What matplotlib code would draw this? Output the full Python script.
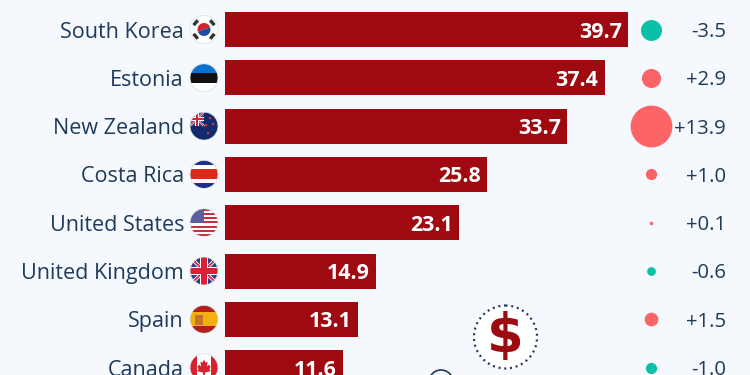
import matplotlib
matplotlib.use("Agg")
import matplotlib.pyplot as plt
from matplotlib.patches import Circle, Rectangle, Polygon, Wedge

countries = ["South Korea", "Estonia", "New Zealand", "Costa Rica",
             "United States", "United Kingdom", "Spain", "Canada"]
values = [39.7, 37.4, 33.7, 25.8, 23.1, 14.9, 13.1, 11.6]
changes = [-3.5, 2.9, 13.9, 1.0, 0.1, -0.6, 1.5, -1.0]

BG = "#f5f8fc"
BAR = "#9e0a10"
NAVY = "#1f3a5a"
UP = "#fd6467"
DOWN = "#0bbfa9"
SCALE = 10.15

plt.rcParams["font.family"] = ["Open Sans", "DejaVu Sans"]

fig = plt.figure(figsize=(7.5, 3.75), dpi=100, facecolor=BG)

# main axes fills the figure, x=0 sits at the bar baseline
ax = fig.add_axes([0, 0, 1, 1])
ax.set_xlim(-225 / SCALE, 525 / SCALE)
ax.set_ylim((375 - 29.5) / 48.3, -29.5 / 48.3)
ax.axis("off")

rows = list(range(len(countries)))
ax.barh(rows, values, height=35 / 48.3, color=BAR, zorder=2)

for i, v in zip(rows, values):
    ax.text(v - 0.62, i, f"{v:.1f}", color="white", fontsize=15.4, fontweight="bold",
            ha="right", va="center_baseline", zorder=3)

x_name = -41 / SCALE
x_bubble = 426 / SCALE
x_change = 501 / SCALE
for i, name, c in zip(rows, countries, changes):
    ax.text(x_name, i, name, color=NAVY, fontsize=15.5, ha="right", va="center_baseline")
    ax.text(x_change, i, f"{c:+.1f}", color=NAVY, fontsize=14.6, ha="right",
            va="center_baseline")
    r_pts = 5.6 * abs(c) ** 0.5 * 0.72
    ax.scatter([x_bubble], [i], s=(2 * r_pts) ** 2, color=UP if c > 0 else DOWN,
               linewidths=0, zorder=3)

# overlay in pixel coordinates for flags and icons
px = fig.add_axes([0, 0, 1, 1], facecolor="none")
px.set_xlim(0, 750)
px.set_ylim(375, 0)
px.axis("off")


def flag(cy, parts, cx=204, r=14):
    clip = Circle((cx, cy), r, transform=px.transData)
    for p in parts:
        p.set_linewidth(0)
        px.add_patch(p)
        p.set_clip_path(clip)
    px.add_patch(Circle((cx, cy), r, fill=False, ec="#dfe3e8", lw=0.6))


def band(cy, top, h, color, x=190, w=28):
    return Rectangle((x, cy - 14 + top), w, h, color=color)


def union(cx, cy, w, h):
    # small union jack, (cx, cy) is the top left corner
    t = w * 0.09
    return [
        Rectangle((cx, cy), w, h, color="#27408b"),
        Polygon([(cx - t, cy), (cx + t, cy), (cx + w + t, cy + h), (cx + w - t, cy + h)], color="white"),
        Polygon([(cx + w + t, cy), (cx + w - t, cy), (cx - t, cy + h), (cx + t, cy + h)], color="white"),
        Polygon([(cx - t / 2, cy), (cx + t / 2, cy), (cx + w + t / 2, cy + h), (cx + w - t / 2, cy + h)], color="#d8203a"),
        Polygon([(cx + w + t / 2, cy), (cx + w - t / 2, cy), (cx - t / 2, cy + h), (cx + t / 2, cy + h)], color="#d8203a"),
        Rectangle((cx + w / 2 - 1.5 * t, cy), 3 * t, h, color="white"),
        Rectangle((cx, cy + h / 2 - 1.5 * t), w, 3 * t, color="white"),
        Rectangle((cx + w / 2 - t, cy), 2 * t, h, color="#d8203a"),
        Rectangle((cx, cy + h / 2 - t), w, 2 * t, color="#d8203a"),
    ]


# South Korea
cy = 29.5
flag(cy, [band(cy, 0, 28, "white"),
          Wedge((204, cy), 6.5, 160, 340, color="#d5232f"),
          Wedge((204, cy), 6.5, -20, 160, color="#1d4fa0")])
for dx, dy, ang in [(-8.3, -6.8, -50), (8.3, -6.8, 50), (-8.3, 6.8, 50), (8.3, 6.8, -50)]:
    px.add_patch(Rectangle((204 + dx - 3.2, cy + dy - 1.7), 6.4, 3.4, angle=ang,
                           rotation_point="center", color="#333333", lw=0))

# Estonia
cy = 77.8
flag(cy, [band(cy, 0, 9.5, "#0a72cc"), band(cy, 9.5, 9.5, "#111111"), band(cy, 19, 9, "white")])

# New Zealand
cy = 126.1
flag(cy, [band(cy, 0, 28, "#12296b")] + union(190, cy - 14, 14, 14))
for dx, dy in [(6, -8), (2, -1), (9, -2), (4, 7)]:
    px.add_patch(Circle((204 + dx, cy + dy), 1.3, color="#c8323f", lw=0))

# Costa Rica
cy = 174.4
flag(cy, [band(cy, 0, 28, "#1c2f8a"), band(cy, 5, 18, "white"), band(cy, 9, 10, "#dd2a1b")])

# United States
cy = 222.7
us = [band(cy, 0, 28, "white")]
for k in range(0, 7):
    us.append(band(cy, k * 4.2, 2.1, "#c8313e"))
us.append(Rectangle((190, cy - 14), 14, 14.5, color="#5a5f9e"))
flag(cy, us)

# United Kingdom
cy = 271.0
flag(cy, union(190, cy - 14, 28, 28))

# Spain
cy = 319.3
flag(cy, [band(cy, 0, 7, "#b3201c"), band(cy, 7, 14, "#f2b10e"), band(cy, 21, 7, "#b3201c"),
          Rectangle((195, cy - 4.5), 8, 10, color="#c8703a")])

# Canada
cy = 367.6
leaf = [(0, -8), (1.5, -5), (3.5, -6), (3, -1), (5, -3), (6.5, -1), (5.5, 2), (7, 3.5),
        (1, 5), (1, 9), (-1, 9), (-1, 5), (-7, 3.5), (-5.5, 2), (-6.5, -1), (-5, -3),
        (-3, -1), (-3.5, -6), (-1.5, -5)]
flag(cy, [band(cy, 0, 28, "white"), Rectangle((190, cy - 14), 7, 28, color="#d8232f"),
          Rectangle((211, cy - 14), 7, 28, color="#d8232f"),
          Polygon([(204 + x, cy + y) for x, y in leaf], color="#d8232f")])

# dollar badge
px.add_patch(Circle((505.5, 337), 31.5, fc="white", ec=NAVY, lw=1.6, ls=(0, (0.9, 1.7)), zorder=4))
px.text(505.5, 337, "$", color=BAR, fontsize=38, fontweight="bold", family="DejaVu Sans",
        ha="center", va="center", zorder=5)

# top of the icon cut off by the bottom edge
px.add_patch(Circle((441, 382), 12, fc=BG, ec=NAVY, lw=1.2, zorder=4))

fig.savefig("out.png", dpi=100, facecolor=BG)
